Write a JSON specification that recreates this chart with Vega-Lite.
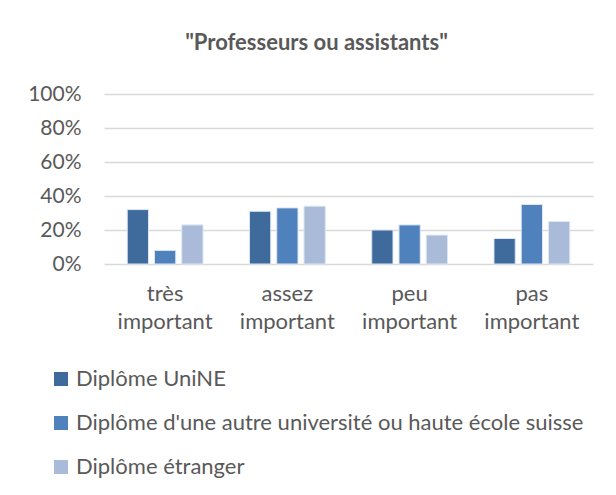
{
  "$schema": "https://vega.github.io/schema/vega-lite/v6.json",
  "autosize": "none",
  "width": 489,
  "height": 170,
  "padding": {"left": 104, "top": 94, "right": 23, "bottom": 231},
  "background": "white",
  "title": {
    "text": "\"Professeurs ou assistants\"",
    "font": "Lato",
    "fontSize": 22,
    "fontWeight": "bold",
    "color": "#595959",
    "anchor": "middle",
    "dx": -32,
    "offset": 28
  },
  "data": {
    "values": [
      {"cat": "très important", "serie": "Diplôme UniNE", "val": 0.32},
      {"cat": "très important", "serie": "Diplôme d'une autre université ou haute école suisse", "val": 0.08},
      {"cat": "très important", "serie": "Diplôme étranger", "val": 0.23},
      {"cat": "assez important", "serie": "Diplôme UniNE", "val": 0.31},
      {"cat": "assez important", "serie": "Diplôme d'une autre université ou haute école suisse", "val": 0.33},
      {"cat": "assez important", "serie": "Diplôme étranger", "val": 0.34},
      {"cat": "peu important", "serie": "Diplôme UniNE", "val": 0.20},
      {"cat": "peu important", "serie": "Diplôme d'une autre université ou haute école suisse", "val": 0.23},
      {"cat": "peu important", "serie": "Diplôme étranger", "val": 0.17},
      {"cat": "pas important", "serie": "Diplôme UniNE", "val": 0.15},
      {"cat": "pas important", "serie": "Diplôme d'une autre université ou haute école suisse", "val": 0.35},
      {"cat": "pas important", "serie": "Diplôme étranger", "val": 0.25}
    ]
  },
  "mark": {"type": "bar", "stroke": "#dde6f2", "strokeWidth": 1},
  "encoding": {
    "x": {
      "field": "cat",
      "type": "nominal",
      "sort": ["très important", "assez important", "peu important", "pas important"],
      "scale": {"paddingInner": 0.38, "paddingOuter": 0.19},
      "axis": {
        "title": null,
        "labelAngle": 0,
        "labelExpr": "split(datum.label, ' ')",
        "labelFont": "Lato",
        "labelFontSize": 22,
        "labelColor": "#595959",
        "labelLineHeight": 28,
        "labelPadding": 19,
        "ticks": false,
        "domain": false
      }
    },
    "xOffset": {
      "field": "serie",
      "type": "nominal",
      "sort": ["Diplôme UniNE", "Diplôme d'une autre université ou haute école suisse", "Diplôme étranger"],
      "scale": {"paddingInner": 0.22, "paddingOuter": 0}
    },
    "y": {
      "field": "val",
      "type": "quantitative",
      "scale": {"domain": [0, 1]},
      "axis": {
        "title": null,
        "format": ".0%",
        "values": [0, 0.2, 0.4, 0.6, 0.8, 1],
        "labelFont": "Lato",
        "labelFontSize": 21,
        "labelColor": "#595959",
        "labelPadding": 23,
        "ticks": false,
        "domain": false,
        "gridColor": "#d9d9d9",
        "gridWidth": 1.5
      }
    },
    "color": {
      "field": "serie",
      "type": "nominal",
      "sort": ["Diplôme UniNE", "Diplôme d'une autre université ou haute école suisse", "Diplôme étranger"],
      "scale": {
        "domain": ["Diplôme UniNE", "Diplôme d'une autre université ou haute école suisse", "Diplôme étranger"],
        "range": ["#3e6a9c", "#4f81bd", "#a9bbd9"]
      },
      "legend": {
        "title": null,
        "orient": "none",
        "legendX": -54,
        "legendY": 274,
        "direction": "vertical",
        "symbolType": "square",
        "symbolSize": 196,
        "symbolStrokeWidth": 0,
        "labelFont": "Lato",
        "labelFontSize": 22,
        "labelColor": "#595959",
        "labelLimit": 700,
        "labelOffset": 4,
        "rowPadding": 22
      }
    }
  },
  "config": {
    "view": {"stroke": null}
  }
}
